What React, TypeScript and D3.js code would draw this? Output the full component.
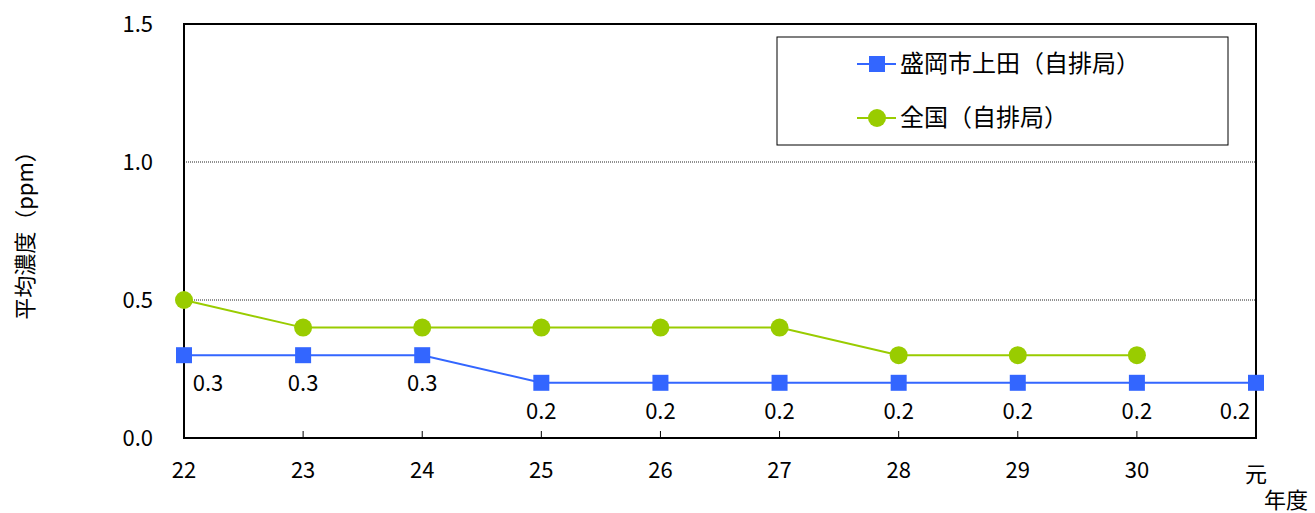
import React from "react";
import * as d3 from "d3";

const categories = ["22", "23", "24", "25", "26", "27", "28", "29", "30", "元"];
const moriokaValues = [0.3, 0.3, 0.3, 0.2, 0.2, 0.2, 0.2, 0.2, 0.2, 0.2];
const nationalValues = [0.5, 0.4, 0.4, 0.4, 0.4, 0.4, 0.3, 0.3, 0.3];
const yTicks = [0, 0.5, 1.0, 1.5];
const seriesNames = ["盛岡市上田（自排局）", "全国（自排局）"];

const W = 1315;
const H = 513;
const left = 184;
const right = 1256;
const top = 24;
const bottom = 438;
const blue = "#3366FF";
const green = "#99CC00";
const font = "'Noto Sans CJK JP', 'Noto Sans', sans-serif";

export default function App() {
  const x = d3
    .scalePoint<string>()
    .domain(categories)
    .range([left, right]);
  const y = d3.scaleLinear().domain([0, 1.5]).range([bottom, top]);

  const line = d3
    .line<number>()
    .x((_, i) => x(categories[i]) as number)
    .y((d) => y(d));

  return (
    <svg
      width={W}
      height={H}
      style={{ position: "absolute", left: 0, top: 0 }}
      fontFamily={font}
    >
      <rect width={W} height={H} fill="#fff" />
      {/* gridlines */}
      {yTicks
        .filter((t) => t > 0 && t < 1.5)
        .map((t) => (
          <line
            key={t}
            x1={left}
            x2={right}
            y1={y(t)}
            y2={y(t)}
            stroke="#222"
            strokeWidth={1}
            strokeDasharray="1,1"
          />
        ))}
      {/* plot frame */}
      <rect
        x={left}
        y={top}
        width={right - left}
        height={bottom - top}
        fill="none"
        stroke="#000"
        strokeWidth={2}
      />
      {/* x ticks (inside) */}
      {categories.slice(1, -1).map((c) => (
        <line
          key={c}
          x1={x(c)}
          x2={x(c)}
          y1={bottom}
          y2={bottom - 7}
          stroke="#000"
          strokeWidth={1}
        />
      ))}
      {/* y tick labels */}
      {yTicks.map((t) => (
        <text
          key={t}
          x={153}
          y={y(t)}
          dy="0.35em"
          textAnchor="end"
          fontSize={22}
          fill="#000"
        >
          {t.toFixed(1)}
        </text>
      ))}
      {/* x tick labels */}
      {categories.slice(0, -1).map((c) => (
        <text
          key={c}
          x={x(c)}
          y={470}
          dy="0.35em"
          textAnchor="middle"
          fontSize={22}
          fill="#000"
        >
          {c}
        </text>
      ))}
      <text x={x("元")} y={474} dy="0.35em" textAnchor="middle" fontSize={22} fill="#000">
        {categories[categories.length - 1]}
      </text>
      <text x={1286} y={500} dy="0.35em" textAnchor="middle" fontSize={22} fill="#000">
        年度
      </text>
      {/* y axis title */}
      <text
        transform={`translate(25,${230}) rotate(-90)`}
        textAnchor="middle"
        dy="0.35em"
        fontSize={22}
        fill="#000"
      >
        平均濃度（ppm）
      </text>
      {/* national series */}
      <path d={line(nationalValues) ?? ""} fill="none" stroke={green} strokeWidth={2} />
      {nationalValues.map((v, i) => (
        <circle key={i} cx={x(categories[i])} cy={y(v)} r={9} fill={green} />
      ))}
      {/* Morioka series */}
      <path d={line(moriokaValues) ?? ""} fill="none" stroke={blue} strokeWidth={2} />
      {moriokaValues.map((v, i) => {
        const cx = x(categories[i]) as number;
        return (
          <rect key={i} x={cx - 8} y={y(v) - 8} width={16} height={16} fill={blue} />
        );
      })}
      {moriokaValues.map((v, i) => {
        let cx = x(categories[i]) as number;
        cx = Math.max(left + 24, Math.min(right - 21, cx));
        return (
          <text
            key={i}
            x={cx}
            y={y(v) + 28}
            dy="0.35em"
            textAnchor="middle"
            fontSize={22}
            fill="#000"
          >
            {v.toFixed(1)}
          </text>
        );
      })}
      {/* legend */}
      <rect x={777} y={37} width={451} height={108} fill="#fff" stroke="#000" strokeWidth={1} />
      <line x1={857} x2={896} y1={64} y2={64} stroke={blue} strokeWidth={2} />
      <rect x={869} y={56} width={16} height={16} fill={blue} />
      <text x={900} y={64} dy="0.35em" fontSize={24} fill="#000">
        {seriesNames[0]}
      </text>
      <line x1={857} x2={896} y1={118} y2={118} stroke={green} strokeWidth={2} />
      <circle cx={877} cy={118} r={9} fill={green} />
      <text x={900} y={118} dy="0.35em" fontSize={24} fill="#000">
        {seriesNames[1]}
      </text>
    </svg>
  );
}
